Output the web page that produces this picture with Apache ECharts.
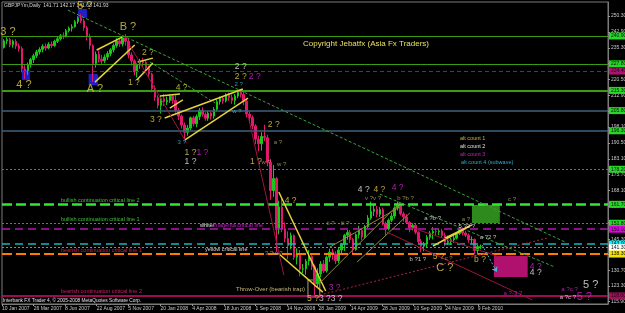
<!DOCTYPE html>
<html><head><meta charset="utf-8">
<script src="https://cdn.jsdelivr.net/npm/echarts@6/dist/echarts.min.js"></script>
<style>html,body{margin:0;padding:0;background:#000;}#c{width:625px;height:313px;}</style>
</head><body><div id="c"></div>
<script>
// ---------- DATA (weekly OHLC: [week, open, close, low, high]) ----------
const ohlc2007 = [
 ['2007-01-08',232.5,235.5,231.8,236.2],['2007-01-15',235.5,238.6,235.0,239.4],['2007-01-22',238.6,239.2,237.0,240.3],
 ['2007-01-29',239.2,236.8,235.6,240.0],['2007-02-05',236.8,238.4,235.4,239.2],['2007-02-12',238.4,236.2,234.8,239.4],
 ['2007-02-19',236.2,235.0,233.6,237.4],['2007-02-26',235.0,225.4,223.8,236.0],['2007-03-05',225.4,224.6,220.8,227.6],
 ['2007-03-12',224.6,227.2,222.6,228.4],['2007-03-19',227.2,229.8,226.0,230.6],['2007-03-26',229.8,231.6,228.2,232.6],
 ['2007-04-02',231.6,233.4,230.6,234.4],['2007-04-09',233.4,234.6,232.2,235.6],['2007-04-16',234.6,236.0,233.2,237.0],
 ['2007-04-23',236.0,235.2,234.0,237.4],['2007-04-30',235.2,237.0,234.6,238.0],['2007-05-07',237.0,236.4,235.2,238.4],
 ['2007-05-14',236.4,238.4,235.8,239.2],['2007-05-21',238.4,239.6,237.6,240.4],['2007-05-28',239.6,241.0,238.8,241.8],
 ['2007-06-04',241.0,240.6,239.4,242.6],['2007-06-11',240.6,243.4,240.2,244.2],['2007-06-18',243.4,244.6,242.6,245.4],
 ['2007-06-25',244.6,245.2,243.0,246.4],['2007-07-02',245.2,247.6,244.8,248.4],['2007-07-09',247.6,249.4,246.6,250.2],
 ['2007-07-16',249.4,248.0,247.0,251.2],['2007-07-23',248.0,244.8,243.4,249.0],['2007-07-30',244.8,240.6,238.8,245.6],
 ['2007-08-06',240.6,236.4,234.6,242.0],['2007-08-13',236.4,228.0,219.4,237.0],['2007-08-20',228.0,232.2,226.0,233.6],
 ['2007-08-27',232.2,230.0,228.4,234.2],['2007-09-03',230.0,229.2,227.4,232.0],['2007-09-10',229.2,231.0,228.2,232.2],
 ['2007-09-17',231.0,232.6,229.6,233.8],['2007-09-24',232.6,234.4,231.4,235.2],['2007-10-01',234.4,236.4,233.2,237.4],
 ['2007-10-08',236.4,238.6,235.4,239.8],['2007-10-15',238.6,237.2,235.8,239.6],['2007-10-22',237.2,240.0,236.0,240.8],
 ['2007-10-29',240.0,238.4,236.4,241.8],['2007-11-05',238.4,232.0,230.4,239.8],['2007-11-12',232.0,229.2,227.0,233.2],
 ['2007-11-19',229.2,224.0,222.4,230.0],['2007-11-26',224.0,227.2,221.4,228.0],['2007-12-03',227.2,229.0,225.4,230.2],
 ['2007-12-10',229.0,228.4,226.4,230.6],['2007-12-17',228.4,226.0,224.8,229.4],['2007-12-24',226.0,223.0,221.4,227.0],
 ['2007-12-31',223.0,216.2,214.4,223.6]
];
const ohlc2008 = [
 ['2008-01-07',216.2,212.0,210.4,217.6],['2008-01-14',212.0,208.2,206.8,213.0],['2008-01-21',208.2,211.4,204.4,212.6],
 ['2008-01-28',211.4,210.0,208.0,213.6],['2008-02-04',210.0,210.6,208.4,212.4],['2008-02-11',210.6,212.6,209.4,213.6],
 ['2008-02-18',212.6,210.6,209.0,213.2],['2008-02-25',210.6,206.0,204.8,213.0],['2008-03-03',206.0,203.2,201.4,207.0],
 ['2008-03-10',203.2,199.0,197.4,204.0],['2008-03-17',199.0,195.6,192.0,200.2],['2008-03-24',195.6,197.6,194.0,199.0],
 ['2008-03-31',197.6,202.4,196.4,203.0],['2008-04-07',202.4,199.6,198.4,203.4],['2008-04-14',199.6,203.0,198.0,204.0],
 ['2008-04-21',203.0,206.0,201.4,207.0],['2008-04-28',206.0,204.0,203.0,207.4],['2008-05-05',204.0,202.2,201.0,205.0],
 ['2008-05-12',202.2,204.6,201.0,205.6],['2008-05-19',204.6,203.2,201.6,205.4],['2008-05-26',203.2,206.4,202.0,207.4],
 ['2008-06-02',206.4,210.0,205.4,211.0],['2008-06-09',210.0,211.6,208.6,212.4],['2008-06-16',211.6,210.4,209.0,212.6],
 ['2008-06-23',210.4,213.0,209.6,214.0],['2008-06-30',213.0,212.0,210.4,214.2],['2008-07-07',212.0,210.6,209.0,213.4],
 ['2008-07-14',210.6,212.6,208.6,213.6],['2008-07-21',212.6,214.4,211.6,215.4],['2008-07-28',214.4,213.4,212.0,215.8],
 ['2008-08-04',213.4,210.2,208.4,215.0],['2008-08-11',210.2,204.2,202.6,211.0],['2008-08-18',204.2,202.6,200.0,205.6],
 ['2008-08-25',202.6,198.6,197.0,203.6],['2008-09-01',198.6,192.4,190.0,199.4],['2008-09-08',192.4,190.2,186.6,194.0],
 ['2008-09-15',190.2,193.6,187.0,195.6],['2008-09-22',193.6,193.0,191.4,199.2],['2008-09-29',193.0,181.4,179.6,194.4],
 ['2008-10-06',181.4,168.2,163.8,183.0],['2008-10-13',168.2,173.8,165.2,180.2],['2008-10-20',173.8,150.6,139.2,174.6],
 ['2008-10-27',150.6,160.4,147.6,163.4],['2008-11-03',160.4,150.2,148.6,164.2],['2008-11-10',150.2,145.6,143.8,153.2],
 ['2008-11-17',145.6,142.2,135.8,149.0],['2008-11-24',142.2,147.0,140.6,148.4],['2008-12-01',147.0,136.8,135.6,147.6],
 ['2008-12-08',136.8,138.2,133.4,141.0],['2008-12-15',138.2,131.2,127.8,140.2],['2008-12-22',131.2,131.4,129.4,133.6],
 ['2008-12-29',131.4,135.0,128.6,136.0]
];
const ohlc2009 = [
 ['2009-01-05',135.0,137.2,133.0,140.2],['2009-01-12',137.2,132.4,130.8,138.0],['2009-01-19',132.4,124.2,118.8,133.4],
 ['2009-01-26',124.2,129.0,122.6,131.6],['2009-02-02',129.0,133.6,127.4,135.0],['2009-02-09',133.6,130.4,129.4,135.4],
 ['2009-02-16',130.4,136.8,129.6,137.6],['2009-02-23',136.8,139.2,134.6,140.8],['2009-03-02',139.2,138.4,135.6,140.8],
 ['2009-03-09',138.4,135.2,133.6,139.6],['2009-03-16',135.2,140.2,134.0,141.6],['2009-03-23',140.2,142.8,138.6,143.6],
 ['2009-03-30',142.8,147.2,139.8,147.8],['2009-04-06',147.2,148.4,145.0,149.6],['2009-04-13',148.4,145.2,143.4,149.6],
 ['2009-04-20',145.2,140.4,138.4,145.8],['2009-04-27',140.4,147.4,139.8,148.0],['2009-05-04',147.4,149.4,145.6,151.6],
 ['2009-05-11',149.4,146.4,144.8,150.4],['2009-05-18',146.4,151.2,145.6,152.0],['2009-05-25',151.2,155.2,150.4,156.6],
 ['2009-06-01',155.2,158.4,154.4,163.0],['2009-06-08',158.4,159.4,156.2,161.6],['2009-06-15',159.4,157.0,155.6,161.0],
 ['2009-06-22',157.0,159.2,155.8,160.4],['2009-06-29',159.2,152.6,151.8,160.2],['2009-07-06',152.6,150.2,146.8,153.6],
 ['2009-07-13',150.2,154.2,149.4,155.0],['2009-07-20',154.2,156.2,153.4,157.6],['2009-07-27',156.2,160.0,155.0,160.8],
 ['2009-08-03',160.0,161.2,158.8,163.0],['2009-08-10',161.2,157.2,156.4,161.8],['2009-08-17',157.2,155.8,153.6,158.2],
 ['2009-08-24',155.8,153.2,152.4,157.0],['2009-08-31',153.2,150.6,148.6,153.8],['2009-09-07',150.6,151.8,149.4,152.8],
 ['2009-09-14',151.8,148.6,147.6,152.6],['2009-09-21',148.6,144.2,143.4,149.0],['2009-09-28',144.2,142.0,139.2,145.4],
 ['2009-10-05',142.0,143.0,139.6,144.0],['2009-10-12',143.0,146.2,141.6,147.2],['2009-10-19',146.2,148.2,145.0,149.2],
 ['2009-10-26',148.2,149.0,145.2,151.0],['2009-11-02',149.0,148.8,147.2,150.6],['2009-11-09',148.8,149.2,147.2,150.4],
 ['2009-11-16',149.2,147.0,145.8,150.2],['2009-11-23',147.0,143.8,142.0,148.4],['2009-11-30',143.8,144.2,142.6,147.0],
 ['2009-12-07',144.2,145.0,142.6,146.0],['2009-12-14',145.0,145.8,143.6,146.8],['2009-12-21',145.8,148.0,145.2,148.6],
 ['2009-12-28',148.0,150.2,147.2,150.6]
];
const ohlc2010 = [
 ['2010-01-04',150.2,148.2,147.0,150.8],['2010-01-11',148.2,147.2,146.2,149.2],['2010-01-18',147.2,145.0,143.6,148.0],
 ['2010-01-25',145.0,145.2,143.0,146.6],['2010-02-01',145.2,140.0,138.2,145.6],['2010-02-08',140.0,141.8,138.0,142.6],
 ['2010-02-15',141.8,141.9,140.6,142.8]
];

// axis tick labels
const xTickDates = ['2007-01-10','2007-03-26','2007-06-08','2007-08-22','2007-11-05','2008-01-20','2008-04-04','2008-06-18',
 '2008-09-01','2008-11-14','2009-01-28','2009-04-14','2009-06-28','2009-09-10','2009-11-24','2010-02-09'];
const yTickValues = [250.30,242.90,235.30,227.90,220.50,212.90,205.50,198.10,190.50,183.10,175.70,168.10,160.70,153.10,145.30,138.30,130.70,123.30,115.90];

// horizontal levels
const levelNames  = ['resistance1','resistance2','magentaUpper','resistance3','blueUpper','blueLower','greenDotted',
 'bullish2','bullish1','whiteMagenta','cyanLevel','bidLine','yellowCritical','bearish2'];
const levelValues = [240.9,227.8,224.4,215.3,205.8,196.3,178.2,161.7,152.8,150.0,143.0,141.3,138.3,118.6];

// trend lines [date1, price1, date2, price2]
const greenTrendLines = [
 ['2007-06-15',253.1,'2010-09-03',144.0],
 ['2009-06-22',166.5,'2010-08-10',132.2],
 ['2007-12-26',228.7,'2008-05-28',209.4]
];
const yellowChannelLines = [
 ['2007-08-22',234.3,'2007-10-21',240.4],
 ['2007-08-18',219.2,'2007-11-20',236.7],
 ['2007-11-27',228.7,'2008-01-02',230.5],
 ['2007-11-25',220.2,'2008-01-02',228.2],
 ['2008-01-19',212.7,'2008-03-06',213.6],
 ['2008-02-11',207.0,'2008-03-13',210.8],
 ['2008-01-30',202.3,'2008-08-02',216.0],
 ['2008-03-18',192.0,'2008-08-14',211.7],
 ['2008-10-26',167.5,'2009-02-14',120.9],
 ['2008-10-24',138.8,'2009-02-07',120.4],
 ['2009-10-26',142.1,'2010-01-21',151.5],
 ['2009-11-23',145.8,'2010-01-26',152.0]
];
const khakiFanLines = [
 ['2009-01-31',124.7,'2009-08-08',162.3],
 ['2009-02-24',141.6,'2009-08-08',160.4],
 ['2009-04-29',134.5,'2009-09-01',157.6]
];
const redTrendLines = [
 ['2007-11-08',236.7,'2008-03-22',190.5],
 ['2008-08-14',203.7,'2008-11-07',128.4],
 ['2009-07-08',148.7,'2010-06-18',116.7],
 ['2009-09-01',151.0,'2010-04-02',136.9]
];
const redDottedLines = [
 ['2009-01-31',119.0,'2010-07-22',145.8]
];
const projectionLines = [
 ['2010-02-19',142.6,'2010-03-26',129.9]
];

// boxes [date1, price1, date2, price2]
const waveBoxes = [
 ['2007-02-26',224.9,'2007-03-17',220.2],
 ['2007-07-09',253.6,'2007-07-30',249.4],
 ['2007-08-03',223.0,'2007-08-25',217.8]
];
const bullTargetBox = ['2010-01-26',161.4,'2010-04-02',152.9];
const bearTargetBox = ['2010-03-19',137.4,'2010-06-07',127.5];
const throwOverBox  = ['2009-01-03',126.1,'2009-01-31',118.1];

// wave labels [date, price, text, degree]
const altCount1Labels = [
 ['2007-01-24',242.8,'3 ?','major'],['2007-03-03',217.8,'4 ?','major'],['2007-07-25',255.0,'5 ?','major'],
 ['2007-08-18',216.0,'A ?','major'],['2007-11-04',245.1,'B ?','major'],['2007-11-18',218.8,'1 ?','minor'],
 ['2007-12-21',232.9,'2 ?','minor'],['2008-01-09',201.4,'3 ?','minor'],['2008-03-10',216.4,'4 ?','minor'],
 ['2008-03-31',185.8,'1 ?','minor'],['2008-07-28',221.6,'2 ?','minor'],['2008-10-14',199.0,'2 ?','minor'],
 ['2008-09-02',181.6,'1 ?','minor'],['2008-11-23',163.5,'4 ?','minor'],['2009-01-15',117.2,'5 ?','minor'],
 ['2009-06-21',168.4,'4 ?','minor'],['2009-11-08',136.9,'5 ?','minor'],['2009-11-23',131.7,'C ?','major'],
 ['2010-02-14',135.5,'b ?','minor'],
 ['2008-10-24',191.0,'a ?','sub'],['2008-09-26',181.6,'w ?','sub'],['2008-11-02',180.7,'w ?','sub'],
 ['2008-10-14',138.8,'3 ?w ?','sub'],['2009-02-26',152.9,'ii ?','sub'],['2009-04-01',152.9,'iii ?','sub'],
 ['2009-06-06',164.7,'v ?v ?','sub'],['2009-08-22',164.4,'b ?b ?','sub'],['2010-05-01',164.2,'c ?','sub'],
 ['2009-12-02',136.4,'c ?','sub'],['2010-01-12',154.8,'a ?','sub']
];
const altCount2Labels = [
 ['2008-03-31',181.6,'1 ?','minor'],['2008-07-28',226.3,'2 ?','minor'],['2009-02-26',117.2,'3 ?3 ?','minor'],
 ['2009-05-15',168.4,'4 ?','minor'],['2009-10-25',155.3,'a ?b ?','sub'],['2010-01-14',151.5,'5 ?2 ?','sub'],
 ['2010-03-05',146.3,'a ?2 ?','sub'],['2010-06-26',129.4,'4 ?','minor'],['2010-11-03',123.7,'5 ?','major'],
 ['2010-09-10',118.1,'a ?c ?','sub'],['2009-09-20',135.9,'b ?1 ?','sub']
];
const altCount3Labels = [
 ['2008-04-28',185.8,'1 ?','minor'],['2008-08-30',221.6,'2 ?','minor'],['2009-03-07',122.3,'3 ?','minor'],
 ['2009-08-03',169.4,'4 ?','minor'],['2010-06-26',132.2,'4 ?','minor'],['2010-09-14',121.9,'a ?c ?','sub'],
 ['2010-10-19',118.1,'5 ?','major'],['2010-05-03',120.0,'a ?-3 ?','sub']
];
const altCount4Labels = [
 ['2008-03-10',191.0,'3 ?','sub'],['2008-07-23',218.3,'2 ?','sub'],['2008-07-19',205.6,'w ?','sub']
];

// ---------- BUILD ----------
const T = s => Date.UTC(+s.slice(0,4), +s.slice(5,7)-1, +s.slice(8,10));
const MON = ['Jan','Feb','Mar','Apr','May','Jun','Jul','Aug','Sep','Oct','Nov','Dec'];
const FONT = 'Liberation Sans';
const candles = [].concat(ohlc2007, ohlc2008, ohlc2009, ohlc2010).map(r => [T(r[0]), r[1], r[2], r[3], r[4]]);

const levelStyle = {
 resistance1:{c:'#3a9a10',w:1,t:'solid',tag:'#27d627'},
 resistance2:{c:'#3a9a10',w:1,t:'solid',tag:'#27d627'},
 magentaUpper:{c:'#a0105a',w:1,t:[4,3],tag:'#b0106e'},
 resistance3:{c:'#3a9a10',w:2,t:'solid',tag:'#27d627'},
 blueUpper:{c:'#3e607c',w:1.5,t:'solid',tag:'#27d627'},
 blueLower:{c:'#3e607c',w:1.5,t:'solid',tag:'#27d627'},
 greenDotted:{c:'#3a9a10',w:1,t:[2,2],tag:'#27d627'},
 bullish2:{c:'#33e633',w:2.5,t:[10,4],tag:'#27d627'},
 bullish1:{c:'#4a9a10',w:1,t:[2,2],tag:'#27d627'},
 whiteMagenta:{c:'#b418b4',w:1.5,t:[8,5],tag:'#e000e0'},
 cyanLevel:{c:'#1eb4b4',w:1.5,t:[8,5],tag:'#00ffff'},
 bidLine:{c:'#8a8a8a',w:1,t:[2,2],tag:'#ffffff'},
 yellowCritical:{c:'#ff7a00',w:2,t:[10,4],tag:'#f0e000'},
 bearish2:{c:'#d01070',w:1.5,t:'solid',tag:'#a0105a'}
};

const markLineData = [];
levelValues.forEach((v,i) => {
  const s = levelStyle[levelNames[i]];
  markLineData.push({yAxis: v, lineStyle:{color:s.c, width:s.w, type:s.t},
    label:{show:true, position:'end', distance:1, formatter: v.toFixed(2), fontSize:5, fontFamily:FONT,
      color:'#101010', backgroundColor:s.tag, padding:[1,2]}});
});
function addSeg(list, style, sym){
  list.forEach(r => markLineData.push([
    {coord:[T(r[0]), r[1]], lineStyle:style, label:{show:false}, symbol:'none'},
    {coord:[T(r[2]), r[3]], symbol: sym || 'none', symbolSize:5}
  ]));
}
addSeg(greenTrendLines, {color:'#3aa03a', width:1, type:[3,2]});
addSeg(yellowChannelLines, {color:'#e6d23c', width:1.5, type:'solid'});
addSeg(khakiFanLines, {color:'#8e8a3a', width:1, type:'solid'});
addSeg(redTrendLines, {color:'#a0143a', width:1, type:'solid'});
addSeg(redDottedLines, {color:'#b0204a', width:1, type:[2,2]});
addSeg(projectionLines, {color:'#30c0d0', width:1, type:[2,2]}, 'arrow');

const box = (r, itemStyle) => [{coord:[T(r[0]), r[1]], itemStyle}, {coord:[T(r[2]), r[3]]}];
const markAreaData = waveBoxes.map(r => box(r, {color:'#2020c8'}))
  .concat([box(bullTargetBox, {color:'#2f8a1e'}), box(bearTargetBox, {color:'#b0106e'}),
           box(throwOverBox, {color:'rgba(0,0,0,0)', borderColor:'#b0a070', borderWidth:1})]);

const degreeSize = {major:11, minor:8.5, sub:6};
function labelSeries(rows, color, subColor){
  return {
    type:'scatter', symbolSize:1, silent:true, z:10, itemStyle:{color:'rgba(0,0,0,0)'},
    data: rows.map(r => ({value:[T(r[0]), r[1]], label:{show:true, position:'inside', formatter:r[2],
      fontSize:degreeSize[r[3]], fontFamily:FONT, color:(r[3]==='sub' && subColor) ? subColor : color}}))
  };
}

const txt = (left, top, text, fill, size, extra) => ({type:'text', left, top, silent:true,
  style:Object.assign({text, fill, font:size+'px "'+FONT+'"'}, extra||{})});

const option = {
  backgroundColor:'#000000',
  animation:false,
  grid:{left:2, right:17, top:2, bottom:9, show:true, borderColor:'#7a7a7a', borderWidth:1, outerBoundsMode:'none'},
  xAxis:{
    type:'value', min:T('2007-01-10'), max:T('2010-12-14'),
    axisLine:{show:true, lineStyle:{color:'#7a7a7a'}},
    axisTick:{show:true, customValues:xTickDates.map(T), length:2, lineStyle:{color:'#9a9a9a'}},
    splitLine:{show:false},
    axisLabel:{customValues:xTickDates.map(T), align:'left', margin:2, fontSize:5, fontFamily:FONT, color:'#c8c8c8',
      formatter: v => { const d = new Date(v); return d.getUTCDate()+' '+MON[d.getUTCMonth()]+' '+d.getUTCFullYear(); }}
  },
  yAxis:{
    type:'value', position:'right', min:114.8, max:256.9,
    axisLine:{show:true, lineStyle:{color:'#7a7a7a'}},
    axisTick:{show:true, customValues:yTickValues, length:2, lineStyle:{color:'#9a9a9a'}},
    splitLine:{show:false},
    axisLabel:{customValues:yTickValues, margin:3, fontSize:5, fontFamily:FONT, color:'#c8c8c8',
      formatter: v => v.toFixed(2)}
  },
  series:[
    {
      type:'candlestick', name:'GBPJPYm', barWidth:2,
      dimensions:['date','open','close','lowest','highest'],
      encode:{x:0, y:[1,2,3,4]},
      data:candles,
      itemStyle:{color:'#18c818', color0:'#e0186e', borderColor:'#18c818', borderColor0:'#e0186e', borderWidth:1},
      markLine:{silent:true, symbol:['none','none'], animation:false, data:markLineData},
      markArea:{silent:true, animation:false, data:markAreaData}
    },
    labelSeries(altCount1Labels, '#e2cf48', '#b8a860'),
    labelSeries(altCount2Labels, '#e6e6e6'),
    labelSeries(altCount3Labels, '#e01ee0'),
    labelSeries(altCount4Labels, '#40b8d0')
  ],
  graphic:[
    txt(4, 3, 'GBPJPYm,Daily  141.71 142.17 141.63 141.93', '#d8d8d8', 5),
    txt(303, 40, 'Copyright Jebatfx (Asia Fx Traders)', '#e8e060', 8),
    txt(460, 135, 'alt count 1', '#c8b448', 5.5),
    txt(460, 143, 'alt count 2', '#e0e0e0', 5.5),
    txt(460, 151, 'alt count 3', '#c020c0', 5.5),
    txt(461, 159, 'alt count 4 (subwave)', '#30a8c8', 5.5),
    txt(61, 197, 'bullish continuation critical line 2', '#3cc03c', 5.5),
    txt(61, 216, 'bullish continuation critical line 1', '#3cc03c', 5.5),
    {type:'text', left:200, top:222, silent:true, style:{text:'{w|white/}{m|magenta critical line}',
      rich:{w:{fill:'#e0e0e0', font:'5.5px "'+FONT+'"'}, m:{fill:'#c020c0', font:'5.5px "'+FONT+'"'}}}},
    txt(205, 246, 'yellow critical line', '#d8d8d8', 5.5),
    txt(61, 247, 'bearish continuation critical line 1', '#c82050', 5.5),
    txt(61, 288, 'bearish continuation critical line 2', '#c82068', 5.5),
    txt(236, 286, 'Throw-Over (bearish trap)', '#c8b878', 6),
    txt(3, 298, 'Interbank FX Trader 4, \u00a9 2005-2008 MetaQuotes Software Corp.', '#e0e0e0', 4.8)
  ]
};
const chart = echarts.init(document.getElementById('c'), null, {renderer:'canvas'});
chart.setOption(option);
</script></body></html>
